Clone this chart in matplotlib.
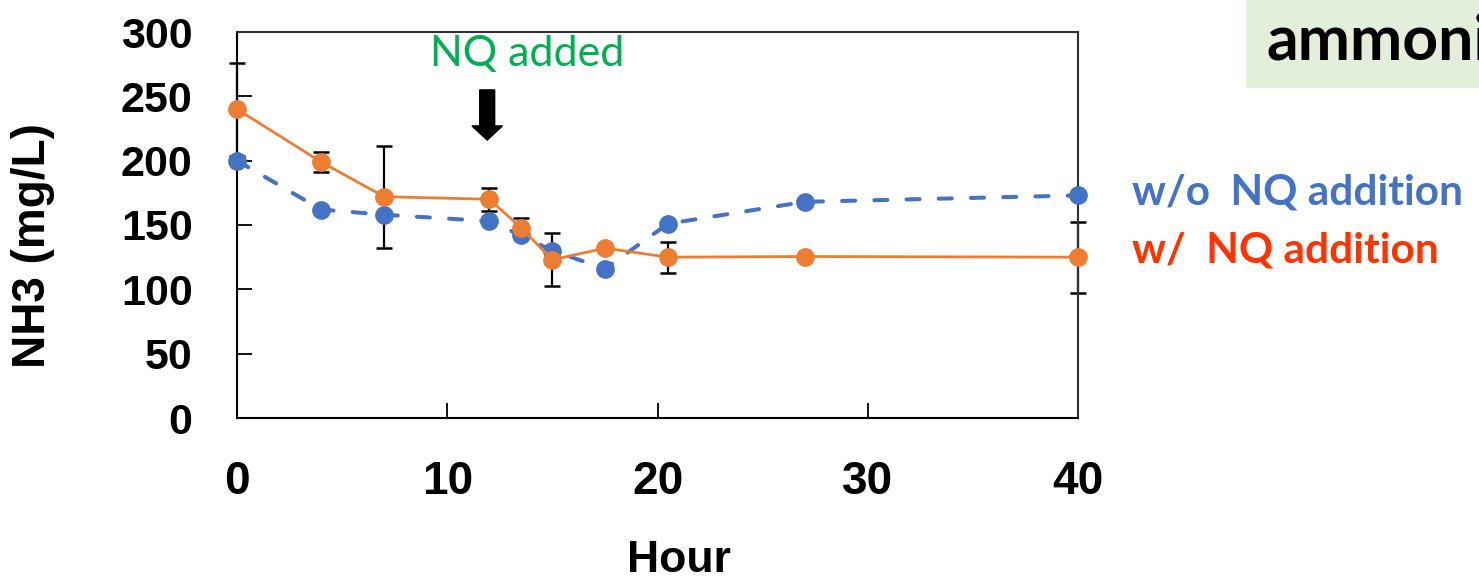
import matplotlib
matplotlib.use("Agg")
import matplotlib.pyplot as plt
from matplotlib.patches import FancyArrow, Rectangle

# ---- data ----
hours = [0, 4, 7, 12, 13.5, 15, 17.5, 20.5, 27, 40]
wo_nq = [200, 162, 158, 153, 142, 130, 116, 151, 168, 173]
w_nq = [240, 199, 172, 170, 148, 123, 132, 125, 125.5, 125]
w_nq_err = [36, 8, 39.5, 9, 7.5, 20.5, None, 12, None, 27.5]
x_ticks = [0, 10, 20, 30, 40]
y_ticks = [0, 50, 100, 150, 200, 250, 300]

W, H = 1479, 581
fig = plt.figure(figsize=(W / 100, H / 100), dpi=100)

def fx(px):
    return px / W

def fy(py):
    return 1 - py / H

ax = fig.add_axes([fx(237), fy(418), fx(1078) - fx(237), fy(32) - fy(418)])
ax.set_xlim(0, 40)
ax.set_ylim(0, 300)

blue = "#4472C4"
orange = "#ED7D31"

# error bars (orange series only)
ex = [h for h, e in zip(hours, w_nq_err) if e is not None]
ey = [v for v, e in zip(w_nq, w_nq_err) if e is not None]
ee = [e for e in w_nq_err if e is not None]
ax.errorbar(ex, ey, yerr=ee, fmt="none", ecolor="black", elinewidth=1.6,
            capsize=6, capthick=1.8, zorder=2, clip_on=False)

ax.plot(hours, wo_nq, color=blue, lw=2.9, dashes=(3.25, 4.75),
        dash_capstyle="round", marker="o", markersize=13.5,
        markeredgewidth=0, zorder=3, clip_on=False)
ax.plot(hours, w_nq, color=orange, lw=2.0, marker="o", markersize=13.5,
        markeredgewidth=0, zorder=4, clip_on=False)

ax.set_xticks(x_ticks)
ax.set_yticks(y_ticks)
ax.set_xticklabels([str(t) for t in x_ticks], fontsize=33, fontweight="bold",
                   family="Liberation Sans")
ax.set_yticklabels([str(t) for t in y_ticks], fontsize=31, fontweight="bold",
                   family="Liberation Sans")
ax.tick_params(axis="both", direction="in", length=11, width=1.3, color="black")
ax.tick_params(axis="x", pad=30)
ax.tick_params(axis="y", pad=32)
for s in ax.spines.values():
    s.set_linewidth(1.5)
    s.set_color("#303030")
ax.spines["left"].set_color("black")
ax.spines["bottom"].set_color("black")

# axis labels
fig.text(fx(679), fy(561), "Hour", fontsize=32, fontweight="bold",
         family="Liberation Sans", ha="center", va="center")
fig.text(fx(33), fy(246), "NH3 (mg/L)", fontsize=33, fontweight="bold",
         family="Liberation Sans", ha="center", va="center", rotation=90)

# annotation
fig.text(fx(527), fy(66), "NQ added", fontsize=31, color="#00B050",
         family="Lato", ha="center", va="baseline")
ax.add_patch(FancyArrow(11.9, 255, 0, -39, width=0.71, head_width=1.45,
                        head_length=11, length_includes_head=True,
                        color="black", clip_on=False, zorder=5))

# title box (cut off at right edge, as in the reference)
fig.patches.append(Rectangle((fx(1246), fy(88)), 1 - fx(1246), fy(0) - fy(88),
                             transform=fig.transFigure, facecolor="#E2EFDA",
                             edgecolor="none", zorder=0))
fig.text(fx(1267), fy(60), "ammonia", fontsize=45, fontweight="bold",
         family="Lato", ha="left", va="baseline", color="black")

# series labels
fig.text(fx(1132), fy(204), "w/o  NQ addition", fontsize=30.5, fontweight="bold",
         family="Lato", color=blue, ha="left", va="baseline")
fig.text(fx(1132), fy(262), "w/  NQ addition", fontsize=30.5, fontweight="bold",
         family="Lato", color="#FF3300", ha="left", va="baseline")

fig.savefig("out.png", dpi=100)
